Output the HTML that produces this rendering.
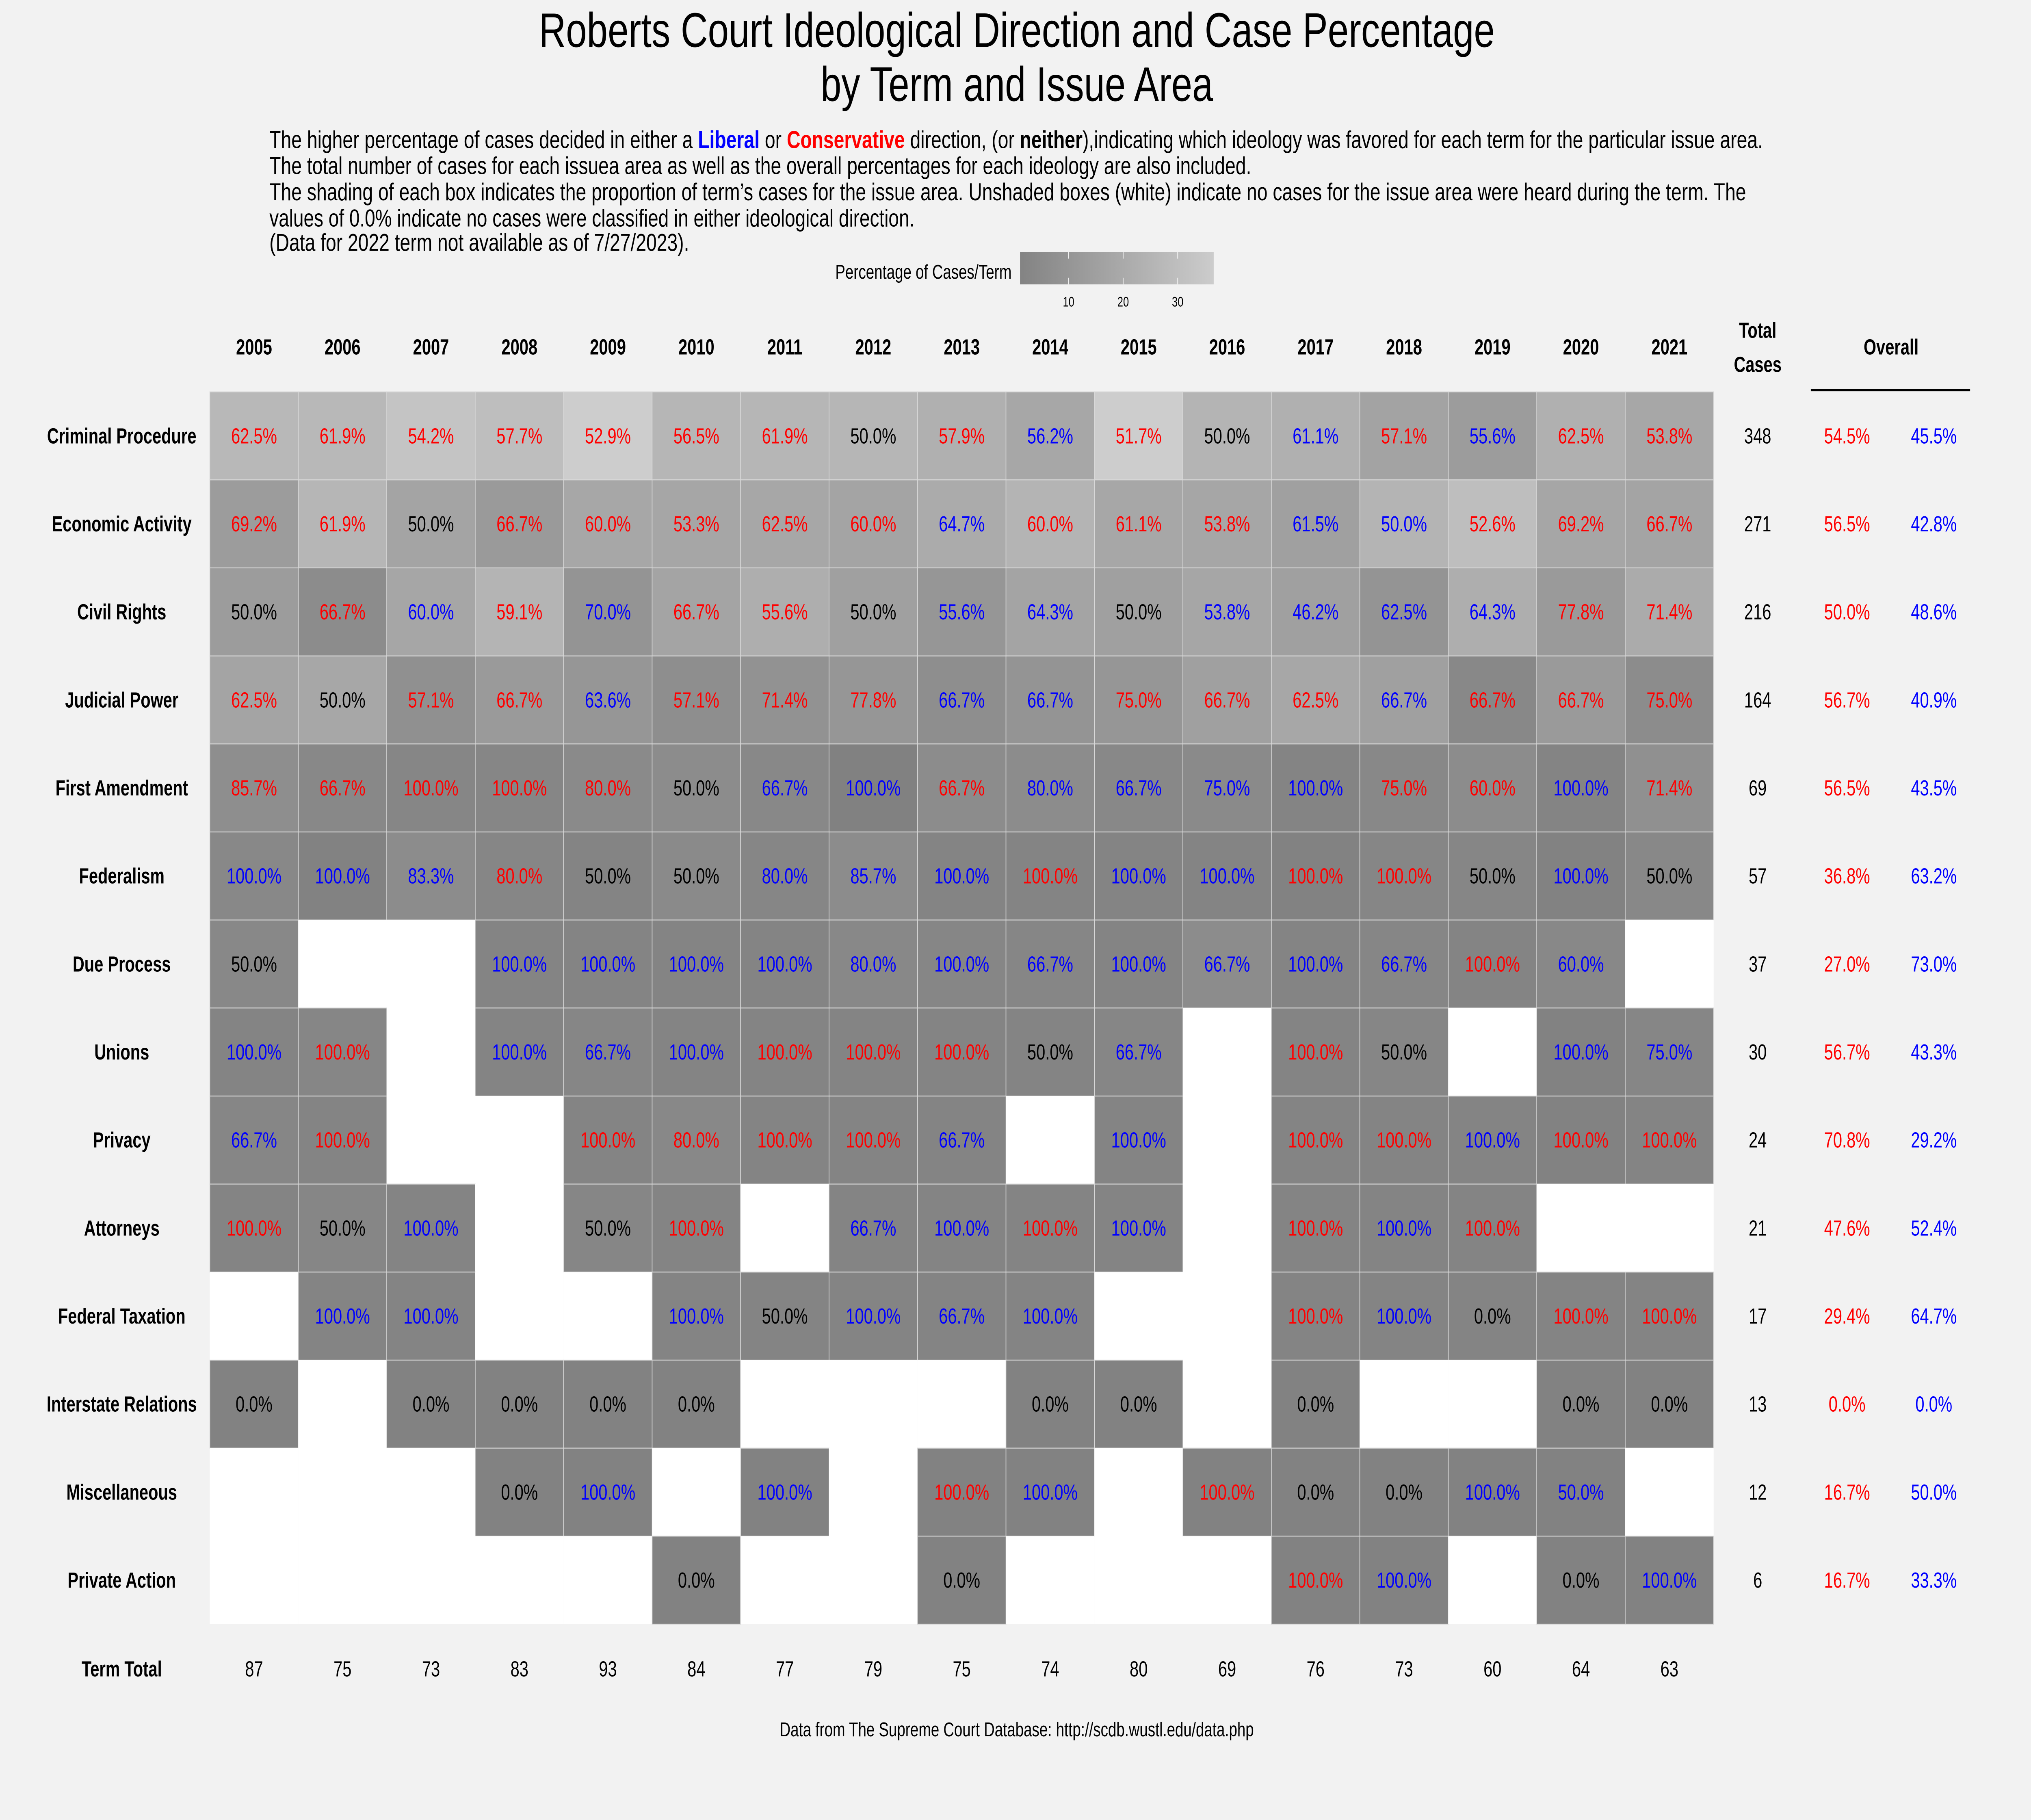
<!DOCTYPE html>
<html><head><meta charset="utf-8"><style>
html,body{margin:0;padding:0;background:#f2f2f2;width:100%;height:100%;overflow:hidden;}
svg{display:block;position:fixed;left:0;top:0;width:100vw;height:100vh;font-family:"Liberation Sans",Arial,sans-serif;}
</style></head><body>
<svg id="chart" viewBox="0 0 1568 1045" preserveAspectRatio="none" xmlns="http://www.w3.org/2000/svg">
<defs><linearGradient id="lg" x1="0" x2="1" y1="0" y2="0"><stop offset="0" stop-color="#838383"/><stop offset="1" stop-color="#cccccc"/></linearGradient></defs>
<rect x="0" y="0" width="1568" height="1045" fill="#f2f2f2"/>
<text x="785" y="27" font-size="28" text-anchor="middle" textLength="738" lengthAdjust="spacingAndGlyphs">Roberts Court Ideological Direction and Case Percentage</text>
<text x="785" y="58" font-size="28" text-anchor="middle" textLength="303" lengthAdjust="spacingAndGlyphs">by Term and Issue Area</text>
<g font-size="14">
<text x="208" y="85" textLength="1153" lengthAdjust="spacingAndGlyphs">The higher percentage of cases decided in either a <tspan fill="#0000ff" font-weight="bold">Liberal</tspan> or <tspan fill="#ff0000" font-weight="bold">Conservative</tspan> direction, (or <tspan font-weight="bold">neither</tspan>),indicating which ideology was favored for each term for the particular issue area.</text>
<text x="208" y="100" textLength="758" lengthAdjust="spacingAndGlyphs">The total number of cases for each issuea area as well as the overall percentages for each ideology are also included.</text>
<text x="208" y="115" textLength="1140" lengthAdjust="spacingAndGlyphs">The shading of each box indicates the proportion of term’s cases for the issue area. Unshaded boxes (white) indicate no cases for the issue area were heard during the term. The</text>
<text x="208" y="130" textLength="498" lengthAdjust="spacingAndGlyphs">values of 0.0% indicate no cases were classified in either ideological direction.</text>
<text x="208" y="144" textLength="324" lengthAdjust="spacingAndGlyphs">(Data for 2022 term not available as of 7/27/2023).</text>
</g>
<g>
<text x="781" y="160" font-size="11.5" text-anchor="end">Percentage of Cases/Term</text>
<rect x="787.5" y="144.7" width="149.5" height="18.6" fill="url(#lg)"/>
<g id="legendTicks"></g>
</g>
<g id="grid"></g>
<text x="785" y="997" font-size="11.5" text-anchor="middle">Data from The Supreme Court Database: http://scdb.wustl.edu/data.php</text>
</svg>
<script>
const years = ["2005","2006","2007","2008","2009","2010","2011","2012","2013","2014","2015","2016","2017","2018","2019","2020","2021"];
const issues = ["Criminal Procedure","Economic Activity","Civil Rights","Judicial Power","First Amendment","Federalism","Due Process","Unions","Privacy","Attorneys","Federal Taxation","Interstate Relations","Miscellaneous","Private Action"];
const N = null;
const cellValues = [
[62.5,61.9,54.2,57.7,52.9,56.5,61.9,50.0,57.9,56.2,51.7,50.0,61.1,57.1,55.6,62.5,53.8],
[69.2,61.9,50.0,66.7,60.0,53.3,62.5,60.0,64.7,60.0,61.1,53.8,61.5,50.0,52.6,69.2,66.7],
[50.0,66.7,60.0,59.1,70.0,66.7,55.6,50.0,55.6,64.3,50.0,53.8,46.2,62.5,64.3,77.8,71.4],
[62.5,50.0,57.1,66.7,63.6,57.1,71.4,77.8,66.7,66.7,75.0,66.7,62.5,66.7,66.7,66.7,75.0],
[85.7,66.7,100,100,80.0,50.0,66.7,100,66.7,80.0,66.7,75.0,100,75.0,60.0,100,71.4],
[100,100,83.3,80.0,50.0,50.0,80.0,85.7,100,100,100,100,100,100,50.0,100,50.0],
[50.0,N,N,100,100,100,100,80.0,100,66.7,100,66.7,100,66.7,100,60.0,N],
[100,100,N,100,66.7,100,100,100,100,50.0,66.7,N,100,50.0,N,100,75.0],
[66.7,100,N,N,100,80.0,100,100,66.7,N,100,N,100,100,100,100,100],
[100,50.0,100,N,50.0,100,N,66.7,100,100,100,N,100,100,100,N,N],
[N,100,100,N,N,100,50.0,100,66.7,100,N,N,100,100,0.0,100,100],
[0.0,N,0.0,0.0,0.0,0.0,N,N,N,0.0,0.0,N,0.0,N,N,0.0,0.0],
[N,N,N,0.0,100,N,100,N,100,100,N,100,0.0,0.0,100,50.0,N],
[N,N,N,N,N,0.0,N,N,0.0,N,N,N,100,100,N,0.0,100]
];
const cellDirs = [
"CCCCCCCNCLCNLCLCC",
"CCNCCCCCLCCCLLCCC",
"NCLCLCCNLLNLLLLCC",
"CNCCLCCCLLCCCLCCC",
"CCCCCNLLCLLLLCCLC",
"LLLCNNLLLCLLCCNLN",
"N--LLLLLLLLLLLCL-",
"LC-LLLCCCNL-CN-LL",
"LC--CCCCL-L-CCLCC",
"CNL-NC-LLCL-CLC--",
"-LL--LNLLL--CLNCC",
"N-NNNN---NN-N--NN",
"---NL-L-CL-CNNLL-",
"-----N--N---CL-NL"
];
const cellShares = [
[27,27,33,30,37,26,26,26,23,19,37,25,23,17,13.5,23,19],
[13.5,26,17.4,12.6,19,18.4,19,17.4,21,25,19,18.4,15.5,25,30,18.4,17.4],
[13.5,5.8,18.4,25,9.7,17.4,22,15.5,10.6,17.4,15.5,18.4,15.5,9.7,22,12.6,21],
[17.4,19,7.7,12.6,10.6,6.8,8.7,10.6,6.8,9.7,10.6,15.5,19,15.5,3.9,12.6,5.8],
[6.8,3.9,2.9,2.9,4.8,5.8,3.9,0.5,5.8,5.8,3.9,4.8,1.9,3.9,5.8,1.9,7.7],
[3.9,1,5.8,2.9,1.9,4.8,2.9,5.8,1.9,1.9,1.9,1.9,1,2.9,2.9,1,3.9],
[3.9,0,0,1.9,1.9,1.9,1.9,3.9,2.9,2.9,1.9,5.8,1.9,2.9,1.9,3.9,0],
[1.9,2.9,0,1.9,2.9,1.9,1.9,1.9,1.9,1.9,2.9,0,1.9,2.9,0,1,2.9],
[2.9,1.9,0,0,1.9,3.9,1.9,1.9,1.9,0,1.9,0,1.9,1.9,1.9,1,1.9],
[1.9,2.9,1.9,0,2.9,1.9,0,1.9,1.9,1.9,1.9,0,1.9,1.9,1.9,0,0],
[0,1.9,1.9,0,0,1.9,1.9,1.9,1.9,1.9,0,0,1.9,1.9,1.9,1.9,1.9],
[1,0,1,1,1,1,0,0,0,1,1,0,1,0,0,1,1],
[0,0,0,1,1,0,1,0,1,1,0,1,1,1,1,1,0],
[0,0,0,0,0,1,0,0,1,0,0,0,1,1,0,1,1]
];
const termTotals = [87,75,73,83,93,84,77,79,75,74,80,69,76,73,60,64,63];
const totalCases = [348,271,216,164,69,57,37,30,24,21,17,13,12,6];
const overallCons = [54.5,56.5,50.0,56.7,56.5,36.8,27.0,56.7,70.8,47.6,29.4,0.0,16.7,16.7];
const overallLib = [45.5,42.8,48.6,40.9,43.5,63.2,73.0,43.3,29.2,52.4,64.7,0.0,50.0,33.3];
const legendTicks = [10,20,30];

const NS = "http://www.w3.org/2000/svg";
const gridLeft = 162, colW = (1323-162)/17, gridTop = 225, rowH = 50.54;
const xCol = i => gridLeft + i*colW;
const yRow = j => gridTop + j*rowH;
const legendX = v => 787.5 + (v - 1.1) * (149.5/35.5);
const shareGrey = s => { const g = Math.round(128 + s*2.07); return `rgb(${g},${g},${g})`; };
const dirColor = d => d === 'C' ? '#ff0000' : (d === 'L' ? '#0000ff' : '#000000');
function mk(tag, attrs, parent, txt){ const e=document.createElementNS(NS,tag); for(const k in attrs) e.setAttribute(k,attrs[k]); if(txt!==undefined) e.textContent=txt; parent.appendChild(e); return e; }

const lt = document.getElementById('legendTicks');
legendTicks.forEach(v => {
  const x = legendX(v);
  const l1 = mk('line',{x1:x,x2:x,y1:144.7,y2:148.5,stroke:'#f2f2f2','stroke-width':0.6},lt);
  
  
  const l2 = mk('line',{x1:x,x2:x,y1:159.5,y2:163.3,stroke:'#f2f2f2','stroke-width':0.6},lt);
  
  
  const t = mk('text',{x:x,y:176,'font-size':8,'text-anchor':'middle'},lt,String(v));
  
  
});

const g = document.getElementById('grid');
years.forEach((yr,i) => {
  const t = mk('text',{x:xCol(i)+colW/2,y:203.5,'font-size':12.5,'font-weight':'bold','text-anchor':'middle'},g,yr);
  
  
  const tt = mk('text',{x:xCol(i)+colW/2,y:962.5,'font-size':12.5,'text-anchor':'middle'},g,String(termTotals[i]));
  
  
});
const tl = mk('text',{x:94,y:962.5,'font-size':12.5,'font-weight':'bold','text-anchor':'middle'},g,'Term Total');


const h1 = mk('text',{x:1357,y:194,'font-size':12.5,'font-weight':'bold','text-anchor':'middle'},g,'Total');


const h2 = mk('text',{x:1357,y:213.5,'font-size':12.5,'font-weight':'bold','text-anchor':'middle'},g,'Cases');


const h3 = mk('text',{x:1460,y:203.5,'font-size':12.5,'font-weight':'bold','text-anchor':'middle'},g,'Overall');


const ul = mk('line',{x1:1398,x2:1521,y1:224,y2:224,stroke:'#000','stroke-width':1.3},g);



issues.forEach((iss,j) => {
  const y = yRow(j), cy = y + rowH/2 + 4.3;
  const rl = mk('text',{x:94,y:cy,'font-size':12.5,'font-weight':'bold','text-anchor':'middle'},g,iss);
  
  
  years.forEach((yr,i) => {
    const v = cellValues[j][i];
    const r = mk('rect',{x:xCol(i),y:y,width:colW,height:rowH,fill: v===null ? '#ffffff' : shareGrey(cellShares[j][i]), stroke: v===null ? 'none' : '#d8d8d8','stroke-width':0.5},g);
    
    
    if (v !== null) {
      const t = mk('text',{x:xCol(i)+colW/2,y:cy,'font-size':12.5,'text-anchor':'middle',fill:dirColor(cellDirs[j][i])},g,v.toFixed(1)+'%');
      
      
    }
  });
  const tc = mk('text',{x:1357,y:cy,'font-size':12.5,'text-anchor':'middle'},g,String(totalCases[j]));
  
  
  const oc = mk('text',{x:1426,y:cy,'font-size':12.5,'text-anchor':'middle',fill:'#ff0000'},g,overallCons[j].toFixed(1)+'%');
  
  
  const ol = mk('text',{x:1493,y:cy,'font-size':12.5,'text-anchor':'middle',fill:'#0000ff'},g,overallLib[j].toFixed(1)+'%');
  
  
});
</script>
</body></html>
